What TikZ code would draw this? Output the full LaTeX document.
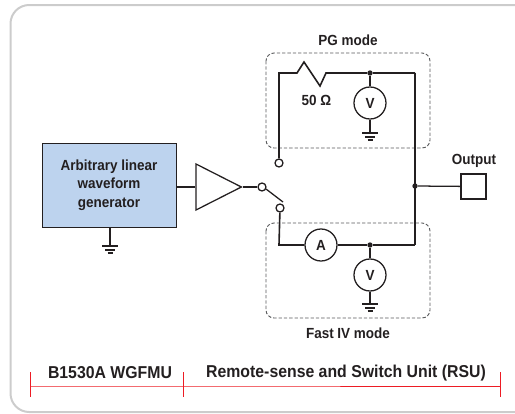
\documentclass[tikz,border=0pt]{standalone}
\usepackage{fontspec}
\setmainfont{Liberation Sans}[FakeStretch=0.92]
\usetikzlibrary{shapes.geometric}
\definecolor{inkdark}{HTML}{231F20}
\definecolor{genblue}{HTML}{BDD3EE}
\definecolor{framegray}{HTML}{CCCCCC}
\definecolor{dashgray}{HTML}{58595B}
\definecolor{spanred}{HTML}{ED1C24}
\begin{document}
\begin{tikzpicture}[
        x=0.75pt, y=-0.75pt,
        every node/.style={font=\fontsize{11}{14}\selectfont\bfseries, text=inkdark},
        wire/.style={draw=inkdark, line width=1.2pt},
        thinwire/.style={draw=inkdark, line width=0.95pt},
        meter/.style={circle, draw=inkdark, line width=0.95pt, fill=white, minimum size=24pt, inner sep=0pt},
        contact/.style={circle, draw=inkdark, line width=0.95pt, fill=white, minimum size=6pt, inner sep=0pt},
        junction/.style={circle, fill=inkdark, minimum size=4pt, inner sep=0pt},
        modebox/.style={draw=dashgray, line width=0.7pt, dash pattern=on 2.5pt off 1.5pt, rounded corners=6pt},
        span/.style={draw=spanred, line width=0.6pt},
        spanlabel/.style={font=\fontsize{12.9}{15}\selectfont\bfseries},
        gnd/.pic={
            \draw[thinwire] (-8,0) -- (8,0);
            \draw[thinwire] (-5,4) -- (5,4);
            \draw[thinwire] (-2.5,7) -- (2.5,7);
        }
    ]
        \useasboundingbox (0,0) rectangle (515,414);

        % panel
        \begin{scope}
            \clip (0,0) rectangle (515,414);
            \draw[framegray, line width=1.5pt, rounded corners=14pt] (10.5,5) rectangle (560,412);
        \end{scope}

        % mode boxes
        \draw[modebox] (266,53) rectangle (430,148);
        \draw[modebox] (266,223) rectangle (430,318);
        \node (pglabel) at (348,40) {PG mode};
        \node (ivlabel) at (348,333.5) {Fast IV mode};

        % generator and buffer
        \node (gen) at (109,185) [draw=inkdark, line width=0.6pt, fill=genblue, minimum width=100.5pt, minimum height=63pt, align=center] {Arbitrary linear\\waveform\\generator};
        \node (buf) at (243,187) [isosceles triangle, isosceles triangle stretches, anchor=apex, draw=inkdark, line width=0.95pt, inner sep=0pt, minimum width=34.5pt, minimum height=34pt] {};
        \coordinate (gengnd) at (110,246);
        \draw[thinwire] (gen.south -| gengnd) -- (gengnd);
        \pic at (gengnd) {gnd};
        \draw[thinwire] (gen.east |- buf.lower side) -- (buf.lower side);

        % switch
        \node (swc) at (262,187) [contact] {};
        \node (swp) at (279,163) [contact] {};
        \node (swi) at (280,208) [contact] {};
        \coordinate (blade1) at (266,189);
        \coordinate (blade2) at (283,202);
        \draw[thinwire] (buf.apex) -- (swc);
        \draw[thinwire] (blade1) -- (blade2);

        % PG branch
        \node (vpg) at (370,103) [meter] {V};
        \node (dotpg) at (370,73) [junction] {};
        \coordinate (pgcorner) at (279,73);
        \coordinate (rail1) at (415,73);
        \coordinate (gndpg) at (370,133);
        \draw[wire] (swp) -- (pgcorner) -- (297,73) -- (304,62) -- (320,86) -- (326,73) -- (dotpg) -- (rail1);
        \draw[thinwire] (dotpg) -- (vpg);
        \draw[thinwire] (vpg) -- (gndpg);
        \pic at (gndpg) {gnd};
        \node (res) at (316.5,100.5) {50 Ω};

        % Fast IV branch
        \node (ameter) at (321,245) [meter] {A};
        \node (viv) at (370,275) [meter] {V};
        \node (dotiv) at (370,245) [junction] {};
        \coordinate (ivcorner) at (279,245);
        \coordinate (rail2) at (415,245);
        \coordinate (gndiv) at (370,304);
        \draw[wire] (swi) -- (ivcorner) -- (ameter);
        \draw[wire] (ameter) -- (dotiv) -- (rail2);
        \draw[thinwire] (dotiv) -- (viv);
        \draw[thinwire] (viv) -- (gndiv);
        \pic at (gndiv) {gnd};

        % output
        \draw[wire] (rail1) -- (rail2);
        \node (dotout) at (415,186) [junction] {};
        \node (outbox) at (473.5,186.5) [draw=inkdark, line width=1.1pt, fill=white, minimum size=18.5pt, inner sep=0pt] {};
        \node (outlabel) at (474,160.5) {Output};
        \draw[thinwire] (dotout) -- (outbox);

        % span bar
        \coordinate (spana) at (30,386);
        \coordinate (spanb) at (183,386);
        \coordinate (spanc) at (500.5,386);
        \draw[span] (spana) -- (spanb) -- (spanc);
        \draw[span] (30,372) -- (30,397);
        \draw[span] (183,372) -- (183,397);
        \draw[span] (500.5,372) -- (500.5,397);
        \node (wgfmu) at (110,373) [spanlabel] {B1530A WGFMU};
        \node (rsu) at (346,373) [spanlabel] {Remote-sense and Switch Unit (RSU)};
    \end{tikzpicture}
\end{document}
